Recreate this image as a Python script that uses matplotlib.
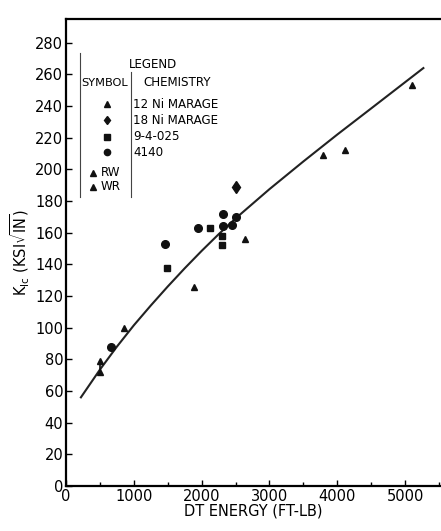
import matplotlib
matplotlib.use("Agg")
import matplotlib.pyplot as plt

# Datapunkter lest av figuren (DT-energi i ft-lb, K_Ic i ksi*sqrt(in))
ni12_x = [860, 1888, 2640, 3786, 4115, 5098]
ni12_y = [100, 126, 156, 209, 212, 253]
ni18_x = [2507]
ni18_y = [189]
sq_x = [1485, 2124, 2296, 2296]
sq_y = [138, 163, 158, 152]
c4140_x = [659, 1460, 1951, 2311, 2320, 2444, 2507]
c4140_y = [88, 153, 163, 164, 172, 165, 170]
rw_x = [507]
rw_y = [79]
wr_x = [507]
wr_y = [72]

# Tilpasset kurve, lest av punkt for punkt
fit_x = [220, 500, 750, 1000, 1250, 1500, 1750, 2000, 2250, 2500, 3000, 3500, 4000, 4500, 5270]
fit_y = [56, 73.5, 88, 101.5, 114, 126, 137.5, 148.5, 159, 169, 187.5, 205, 222, 238.5, 264]

x_ticks = [0, 1000, 2000, 3000, 4000, 5000]
y_ticks = list(range(0, 281, 20))

legend_chem = ["12 Ni MARAGE", "18 Ni MARAGE", "9-4-025", "4140"]

fig = plt.figure(figsize=(4.41, 5.31), dpi=100)
ax = fig.add_axes([66/441, 45/531, 375/441, 467/531])

ax.plot(fit_x, fit_y, color='#222222', lw=1.5, zorder=2)

mk = dict(color='#111111', linestyle='none', zorder=3)
ax.plot(ni12_x, ni12_y, marker='^', markersize=5, **mk)
ax.plot(ni18_x, ni18_y, marker='d', markersize=6, **mk)
ax.plot(sq_x, sq_y, marker='s', markersize=5, **mk)
ax.plot(c4140_x, c4140_y, marker='o', markersize=5.5, **mk)
ax.plot(rw_x + wr_x, rw_y + wr_y, color='#111111', lw=1.2, zorder=3)
ax.plot(rw_x, rw_y, marker='^', markersize=4, **mk)
ax.plot(wr_x, wr_y, marker='^', markersize=4, **mk)

ax.set_xlim(0, 5530)
ax.set_ylim(0, 295)
ax.set_xticks(x_ticks)
ax.set_xticks(range(500, 5600, 1000), minor=True)
ax.set_yticks(y_ticks)
ax.tick_params(axis='both', which='major', direction='in', length=4, width=1, labelsize=10.5, pad=2)
ax.tick_params(axis='x', which='minor', direction='in', length=3, width=1)
ax.spines['right'].set_visible(False)
for s in ['left', 'bottom', 'top']:
    ax.spines[s].set_linewidth(1.6)

ax.set_xlabel('DT ENERGY (FT-LB)', fontsize=10.5, labelpad=0)
ax.set_ylabel(r'K$_{\mathrm{Ic}}$ (KSI$\sqrt{\mathrm{IN}}$)', fontsize=10.5, labelpad=2)

# Legende tegnet for hand, som i originalen
def pos(px, py):
    return ((px - 66) / 375, (486 - py) / 467)

tr = ax.transAxes
fs = 8.6
ax.text(*pos(153, 65), 'LEGEND', transform=tr, ha='center', va='center', fontsize=fs)
ax.text(*pos(105, 83), 'SYMBOL', transform=tr, ha='center', va='center', fontsize=fs - 0.4)
ax.text(*pos(177, 83), 'CHEMISTRY', transform=tr, ha='center', va='center', fontsize=fs)

leg_marks = [('^', 4), ('d', 4.5), ('s', 4), ('o', 4.5)]
leg_y = [104, 120, 137, 152]
for (m, ms), yy, txt in zip(leg_marks, leg_y, legend_chem):
    ax.plot(*pos(107, yy), marker=m, markersize=ms, color='#111111', transform=tr, clip_on=False)
    ax.text(*pos(133, yy), txt, transform=tr, ha='left', va='center', fontsize=fs)

for yy, txt in zip([173, 187], ['RW', 'WR']):
    ax.plot(*pos(93, yy), marker='^', markersize=4, color='#111111', transform=tr, clip_on=False)
    ax.text(*pos(101, yy), txt, transform=tr, ha='left', va='center', fontsize=fs)

x0, y0 = pos(80, 53)
x1, y1 = pos(80, 197)
ax.plot([x0, x1], [y0, y1], color='#444444', lw=0.8, transform=tr)
x0, y0 = pos(131, 72)
x1, y1 = pos(131, 197)
ax.plot([x0, x1], [y0, y1], color='#444444', lw=0.8, transform=tr)

fig.savefig('out.png', dpi=100)
